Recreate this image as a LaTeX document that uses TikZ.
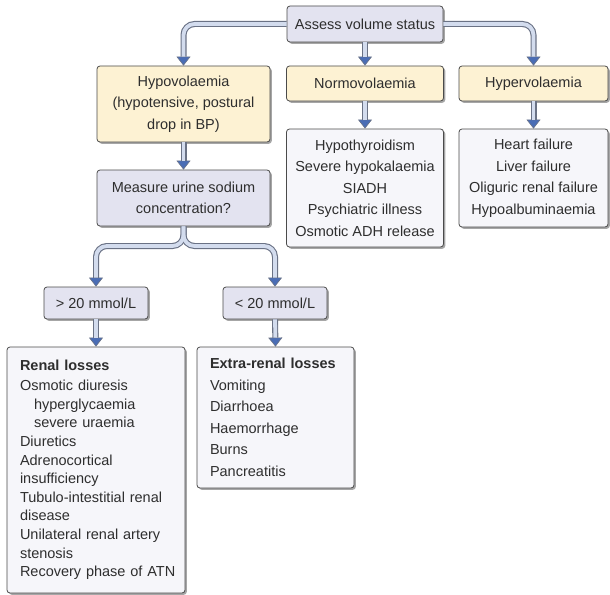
\documentclass[tikz,border=0pt]{standalone}
\usepackage{fontspec}
\setmainfont{Liberation Sans}
\usetikzlibrary{arrows.meta,shadows}
\definecolor{yel}{HTML}{FDF2D3}
\definecolor{lav}{HTML}{E3E3F0}
\definecolor{pale}{HTML}{F6F6FA}
\definecolor{boxline}{HTML}{4A4A4A}
\definecolor{txt}{HTML}{2E2E2E}
\definecolor{arrline}{HTML}{6A7285}
\definecolor{arrfill}{HTML}{D3DCEE}
\definecolor{arrhead}{HTML}{4A6DB5}
\begin{document}
\begin{tikzpicture}[x=1pt,y=-1pt,
  box/.style={draw=boxline, line width=0.8pt, rounded corners=3pt, text=txt,
    drop shadow={shadow xshift=1.8pt,shadow yshift=-1.8pt,fill=black,opacity=0.35},
    inner sep=2pt, align=center, font=\fontsize{14.5}{21.5}\selectfont},
  ybox/.style={box, fill=yel},
  lbox/.style={box, fill=lav},
  pbox/.style={box, fill=pale},
  listbox/.style={box, fill=pale, align=left, inner xsep=13pt, inner ysep=2pt},
  connout/.style={line width=6pt, draw=arrline, rounded corners=11pt,
    -{Triangle[width=14pt,length=9pt,fill=arrhead,line width=0.6pt]}},
  connin/.style={line width=3.8pt, draw=arrfill, rounded corners=11pt, shorten >=9pt}
]
\useasboundingbox (0,0) rectangle (610,594);

\node[lbox, minimum width=156pt, minimum height=36pt] (assess) at (365,24) {Assess volume status};
\node[ybox, minimum width=173pt, minimum height=76pt] (hypo) at (183.5,104)
  {Hypovolaemia\\(hypotensive, postural\\drop in BP)};
\node[ybox, minimum width=157pt, minimum height=35pt] (normo) at (365,83.5) {Normovolaemia};
\node[ybox, minimum width=149pt, minimum height=35pt] (hyper) at (533.5,83.5) {Hypervolaemia};
\node[lbox, minimum width=173pt, minimum height=56pt] (measure) at (183.5,198)
  {Measure urine sodium\\concentration?};
\node[pbox, minimum width=157pt, minimum height=118pt] (normolist) at (365,188)
  {Hypothyroidism\\Severe hypokalaemia\\SIADH\\Psychiatric illness\\Osmotic ADH release};
\node[pbox, minimum width=149pt, minimum height=98pt] (hyperlist) at (533.5,178)
  {Heart failure\\Liver failure\\Oliguric renal failure\\Hypoalbuminaemia};
\node[lbox, minimum width=104pt, minimum height=32pt] (gt) at (96,303) {> 20 mmol/L};
\node[lbox, minimum width=104pt, minimum height=32pt] (lt) at (275,303) {< 20 mmol/L};
\node[listbox, text width=152pt, minimum height=246pt,
  font=\fontsize{14.5}{18.6}\selectfont] (renal) at (96,470)
  {\textbf{Renal losses}\\[1.2pt]Osmotic diuresis\\\hspace*{14pt}hyperglycaemia\\\hspace*{14pt}severe uraemia\\Diuretics\\Adrenocortical\\insufficiency\\Tubulo-intestitial renal\\disease\\Unilateral renal artery\\stenosis\\\mbox{Recovery phase of ATN}};
\node[listbox, text width=131pt, minimum height=141pt] (extra) at (275.5,417.5)
  {\textbf{Extra-renal losses}\\Vomiting\\Diarrhoea\\Haemorrhage\\Burns\\Pancreatitis};

\coordinate (split) at (183.5,246);

% outer strokes
\draw[connout] (assess.west) -| (hypo.north);
\draw[connout] (assess.east) -| (hyper.north);
\draw[connout] (assess.south) -- (normo.north);
\draw[connout] (hypo.south) -- (measure.north);
\draw[connout] (normo.south) -- (normolist.north);
\draw[connout] (hyper.south) -- (hyperlist.north);
\draw[connout] (measure.south) -- (split) -| (gt.north);
\draw[connout] (measure.south) -- (split) -| (lt.north);
\draw[connout] (gt.south) -- (renal.north);
\draw[connout] (lt.south) -- (extra.north);
% inner strokes
\draw[connin] (assess.west) -| (hypo.north);
\draw[connin] (assess.east) -| (hyper.north);
\draw[connin] (assess.south) -- (normo.north);
\draw[connin] (hypo.south) -- (measure.north);
\draw[connin] (normo.south) -- (normolist.north);
\draw[connin] (hyper.south) -- (hyperlist.north);
\draw[connin] (measure.south) -- (split) -| (gt.north);
\draw[connin] (measure.south) -- (split) -| (lt.north);
\draw[connin] (gt.south) -- (renal.north);
\draw[connin] (lt.south) -- (extra.north);
\end{tikzpicture}
\end{document}
